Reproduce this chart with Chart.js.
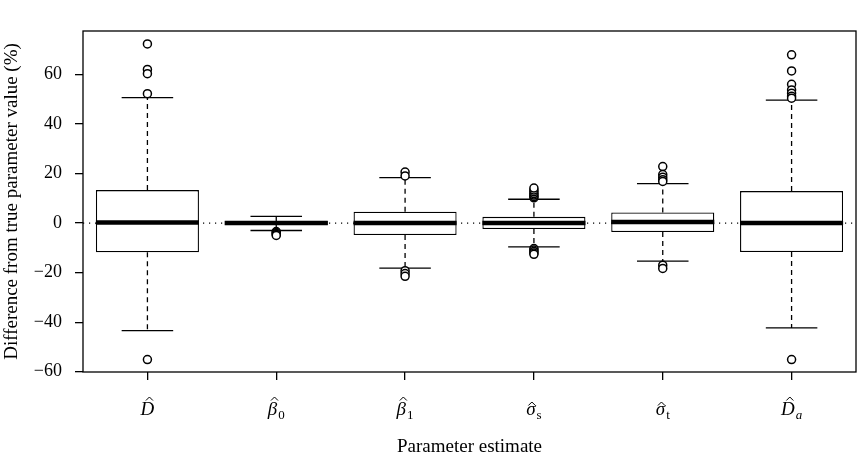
<!DOCTYPE html>
<html>
<head>
<meta charset="utf-8">
<script src="https://cdn.jsdelivr.net/npm/chart.js@4"></script>
<style>
  html, body { margin: 0; padding: 0; background: #fff; }
</style>
</head>
<body>
<canvas id="chart" width="858" height="464"></canvas>
<script>
// parameter estimates (x axis): symbol with a hat, plus subscript
const labelBase = ['D', '\u03B2', '\u03B2', '\u03C3', '\u03C3', 'D'];
const labelSub = ['', '0', '1', 's', 't', 'a'];
const subItalic = [false, false, false, false, false, true];

// box statistics, % difference from true value
const whiskerLow = [-43.4, -3.0, -18.2, -9.6, -15.4, -42.3];
const q1 = [-11.8, -0.8, -4.8, -2.4, -3.6, -11.7];
const median = [0.2, 0.0, 0.0, 0.0, 0.4, 0.0];
const q3 = [13.3, 0.8, 4.6, 2.5, 4.3, 12.9];
const whiskerHigh = [50.6, 2.7, 18.3, 9.6, 15.9, 49.6];

// outliers per estimate
const outliers = [
  [72.3, 62.0, 60.3, 52.2, -55.1],
  [-3.4, -3.8, -4.2, -4.6, -5.0],
  [20.6, 19.0, -19.2, -20.4, -21.5],
  [10.2, 10.7, 11.3, 11.9, 12.6, 13.3, 14.1, -10.3, -10.9, -11.5, -12.1, -12.6],
  [22.8, 19.6, 18.5, 17.5, 16.8, -17.0, -18.3],
  [67.9, 61.4, 56.0, 53.7, 52.4, 51.2, 50.4, -55.1]
];

const yTicks = [-60, -40, -20, 0, 20, 40, 60];

const serif = 'Liberation Serif, Times New Roman, serif';

// dotted zero line, whiskers, medians, hat labels and the frame
const boxPlotExtras = {
  id: 'boxPlotExtras',
  beforeDatasetsDraw(chart) {
    const { ctx, chartArea } = chart;
    const y0 = chart.scales.y.getPixelForValue(0);
    ctx.save();
    ctx.strokeStyle = '#000';
    ctx.lineWidth = 1.2;
    ctx.setLineDash([1.2, 4.8]);
    ctx.beginPath();
    ctx.moveTo(chartArea.left, y0);
    ctx.lineTo(chartArea.right, y0);
    ctx.stroke();
    ctx.restore();
  },
  afterDatasetDraw(chart, args) {
    if (args.index !== 0) return;
    const { ctx } = chart;
    const y = chart.scales.y;
    ctx.save();
    ctx.strokeStyle = '#000';
    args.meta.data.forEach((bar, i) => {
      const x = bar.x;
      const w = bar.width;
      // dashed whiskers
      ctx.lineWidth = 1.3;
      ctx.setLineDash([5, 4]);
      ctx.beginPath();
      ctx.moveTo(x, y.getPixelForValue(q3[i]));
      ctx.lineTo(x, y.getPixelForValue(whiskerHigh[i]));
      ctx.moveTo(x, y.getPixelForValue(q1[i]));
      ctx.lineTo(x, y.getPixelForValue(whiskerLow[i]));
      ctx.stroke();
      // caps
      ctx.setLineDash([]);
      ctx.beginPath();
      ctx.moveTo(x - w / 4, y.getPixelForValue(whiskerHigh[i]));
      ctx.lineTo(x + w / 4, y.getPixelForValue(whiskerHigh[i]));
      ctx.moveTo(x - w / 4, y.getPixelForValue(whiskerLow[i]));
      ctx.lineTo(x + w / 4, y.getPixelForValue(whiskerLow[i]));
      ctx.stroke();
      // median
      ctx.lineWidth = 4.6;
      ctx.beginPath();
      ctx.moveTo(x - w / 2, y.getPixelForValue(median[i]));
      ctx.lineTo(x + w / 2, y.getPixelForValue(median[i]));
      ctx.stroke();
    });
    ctx.restore();
  },
  afterDraw(chart) {
    const { ctx, chartArea } = chart;
    const xs = chart.scales.x;
    ctx.save();
    ctx.strokeStyle = '#000';
    ctx.lineWidth = 1.3;
    ctx.strokeRect(chartArea.left, chartArea.top, chartArea.right - chartArea.left, chartArea.bottom - chartArea.top);

    // x tick labels: italic symbol, hat and small subscript
    const baseline = chartArea.bottom + 43;
    ctx.fillStyle = '#000';
    ctx.textBaseline = 'alphabetic';
    ctx.textAlign = 'left';
    labelBase.forEach((b, i) => {
      const cx = xs.getPixelForValue(i + 1);
      ctx.font = 'italic 19px ' + serif;
      const bw = ctx.measureText(b).width;
      ctx.font = (subItalic[i] ? 'italic ' : '') + '13px ' + serif;
      const sw = labelSub[i] ? ctx.measureText(labelSub[i]).width + 1 : 0;
      const x0 = cx - (bw + sw) / 2;
      ctx.font = 'italic 19px ' + serif;
      ctx.fillText(b, x0, baseline);
      if (labelSub[i]) {
        ctx.font = (subItalic[i] ? 'italic ' : '') + '13px ' + serif;
        ctx.fillText(labelSub[i], x0 + bw + 1, baseline + 4);
      }
      // hat
      const tall = b !== '\u03C3';
      const hx = x0 + bw / 2 + (tall ? 2 : 1);
      const hy = baseline - (tall ? 17 : 12);
      ctx.lineWidth = 1;
      ctx.beginPath();
      ctx.moveTo(hx - 3.5, hy + 2.5);
      ctx.lineTo(hx, hy - 1);
      ctx.lineTo(hx + 3.5, hy + 2.5);
      ctx.stroke();
    });
    ctx.restore();
  }
};

const boxData = labelBase.map((c, i) => ({ x: i + 1, y: [q1[i], q3[i]] }));
const outlierData = [];
outliers.forEach((list, i) => list.forEach(v => outlierData.push({ x: i + 1, y: v })));

new Chart(document.getElementById('chart'), {
  type: 'bar',
  data: {
    datasets: [
      {
        type: 'bar',
        data: boxData,
        backgroundColor: '#fff',
        borderColor: '#000',
        borderWidth: 1.3,
        borderSkipped: false,
        categoryPercentage: 0.8,
        barPercentage: 1,
        order: 2
      },
      {
        type: 'scatter',
        data: outlierData,
        pointStyle: 'circle',
        pointRadius: 4,
        pointBorderWidth: 1.5,
        pointBackgroundColor: '#fff',
        pointBorderColor: '#000',
        order: 1
      }
    ]
  },
  options: {
    responsive: false,
    animation: false,
    layout: { autoPadding: false, padding: { top: 31, right: 2, left: 0, bottom: 0 } },
    plugins: {
      legend: { display: false },
      tooltip: { enabled: false }
    },
    scales: {
      x: {
        type: 'linear',
        min: 0.5,
        max: 6.5,
        offset: false,
        afterBuildTicks: scale => { scale.ticks = labelBase.map((c, i) => ({ value: i + 1 })); },
        afterFit: scale => {
          scale.height = 92;
          scale.paddingLeft = 0;
          scale.paddingRight = 0;
        },
        grid: { offset: false, drawOnChartArea: false, drawTicks: true, tickLength: 8, color: '#000', lineWidth: 1.3 },
        border: { display: false },
        ticks: {
          color: '#000',
          padding: 12,
          maxRotation: 0,
          font: { family: serif, size: 19 },
          callback: () => ''
        },
        title: {
          display: true,
          text: 'Parameter estimate',
          color: '#000',
          font: { family: serif, size: 19 },
          padding: { top: 0, bottom: 6 }
        }
      },
      y: {
        min: -60.1,
        max: 77.5,
        afterBuildTicks: scale => { scale.ticks = yTicks.map(v => ({ value: v })); },
        afterFit: scale => {
          scale.width = 83;
          scale.paddingTop = 0;
          scale.paddingBottom = 0;
        },
        grid: { drawOnChartArea: false, drawTicks: true, tickLength: 8, color: '#000', lineWidth: 1.3 },
        border: { display: false },
        ticks: {
          color: '#000',
          padding: 13,
          font: { family: serif, size: 18 },
          callback: v => (v < 0 ? '\u2212' + Math.abs(v) : String(v))
        },
        title: {
          display: true,
          text: 'Difference from true parameter value (%)',
          color: '#000',
          font: { family: serif, size: 19 },
          padding: { top: 1, bottom: 0 }
        }
      }
    }
  },
  plugins: [boxPlotExtras]
});
</script>
</body>
</html>
